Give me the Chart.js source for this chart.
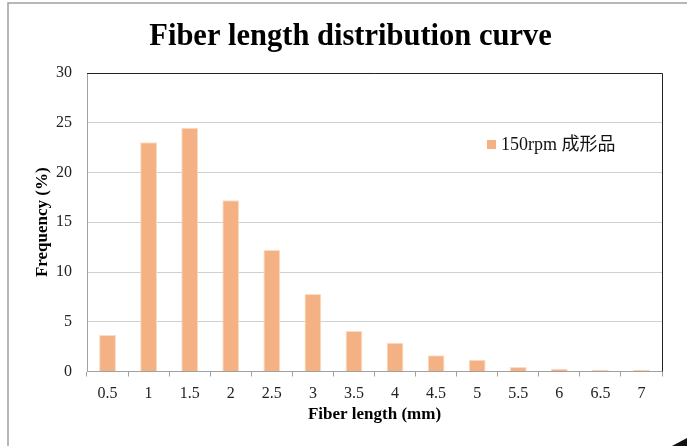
<!DOCTYPE html>
<html>
<head>
<meta charset="utf-8">
<script src="https://cdn.jsdelivr.net/npm/chart.js@4"></script>
<style>
  html, body { margin: 0; padding: 0; background: #fff; }
  #chart { display: block; }
</style>
</head>
<body>
<canvas id="chart" width="687" height="446"></canvas>
<script>
const lengths = ['0.5', '1', '1.5', '2', '2.5', '3', '3.5', '4', '4.5', '5', '5.5', '6', '6.5', '7'];
const frequency = [3.67, 23.05, 24.5, 17.2, 12.2, 7.8, 4.07, 2.9, 1.63, 1.19, 0.45, 0.28, 0.15, 0.15];
const seriesName = '150rpm 成形品';
const chartTitle = 'Fiber length distribution curve';
const yTicks = [0, 5, 10, 15, 20, 25, 30];

const serif = "'Liberation Serif', 'Times New Roman', 'Noto Sans CJK JP', serif";
const barColor = '#f4b183';

// heading, frame lines, dark plot border and the in-plot legend
const decorations = {
    id: 'decorations',
    beforeDatasetsDraw(chart) {
        const { ctx, chartArea: a } = chart;
        ctx.save();
        ctx.strokeStyle = '#222';
        ctx.lineWidth = 1;
        ctx.beginPath();
        ctx.moveTo(a.left, a.top + 0.5);
        ctx.lineTo(a.right + 0.5, a.top + 0.5);
        ctx.lineTo(a.right + 0.5, a.bottom);
        ctx.stroke();
        ctx.restore();
    },
    afterDraw(chart) {
        const { ctx } = chart;
        ctx.save();

        ctx.fillStyle = '#000';
        ctx.font = "bold 30.5px " + serif;
        ctx.textAlign = 'center';
        ctx.textBaseline = 'middle';
        ctx.fillText(chartTitle, 350.5, 37);

        ctx.strokeStyle = '#a0a0a0';
        ctx.lineWidth = 1.5;
        ctx.beginPath();
        ctx.moveTo(8, 446);
        ctx.lineTo(8, 3);
        ctx.lineTo(687, 3);
        ctx.stroke();

        ctx.fillStyle = '#111';
        ctx.beginPath();
        ctx.moveTo(687, 438);
        ctx.lineTo(687, 446);
        ctx.lineTo(672, 446);
        ctx.closePath();
        ctx.fill();

        const ds = chart.data.datasets[0];
        ctx.fillStyle = ds.backgroundColor;
        ctx.fillRect(487, 140, 9, 9);
        ctx.fillStyle = '#111';
        ctx.font = "18px " + serif;
        ctx.textAlign = 'left';
        ctx.fillText(ds.label, 501, 145);
        ctx.restore();
    }
};

new Chart(document.getElementById('chart'), {
    type: 'bar',
    data: {
        labels: lengths,
        datasets: [{
            label: seriesName,
            data: frequency,
            backgroundColor: barColor,
            borderColor: '#fcdcc4',
            borderWidth: 1,
            categoryPercentage: 1,
            barPercentage: 0.41
        }]
    },
    options: {
        responsive: false,
        animation: false,
        layout: { padding: { left: 0, right: 25, top: 73, bottom: 0 } },
        plugins: {
            legend: { display: false },
            tooltip: { enabled: false },
            title: { display: false }
        },
        scales: {
            x: {
                grid: {
                    offset: true,
                    drawOnChartArea: false,
                    drawTicks: true,
                    tickLength: 5,
                    color: '#a0a0a0'
                },
                border: { color: '#a0a0a0', width: 1 },
                ticks: {
                    color: '#222',
                    padding: 8,
                    maxRotation: 0,
                    font: { family: serif, size: 16 }
                },
                title: {
                    display: true,
                    text: 'Fiber length (mm)',
                    color: '#000',
                    font: { family: serif, size: 17, weight: 'bold', lineHeight: 1.2 },
                    padding: { top: 0, bottom: 21 }
                },
                afterFit(scale) { scale.height = 74.5; }
            },
            y: {
                min: 0,
                max: 30,
                afterBuildTicks(scale) { scale.ticks = yTicks.map(v => ({ value: v })); },
                grid: { color: '#d0d0d0', drawTicks: false },
                border: { color: '#a0a0a0', width: 1 },
                ticks: {
                    color: '#222',
                    padding: 15,
                    font: { family: serif, size: 16 }
                },
                title: {
                    display: true,
                    text: 'Frequency (%)',
                    color: '#000',
                    font: { family: serif, size: 17, weight: 'bold', lineHeight: 1.2 },
                    padding: { top: 32, bottom: 0 }
                },
                afterFit(scale) { scale.width = 87; }
            }
        }
    },
    plugins: [decorations]
});
</script>
</body>
</html>
